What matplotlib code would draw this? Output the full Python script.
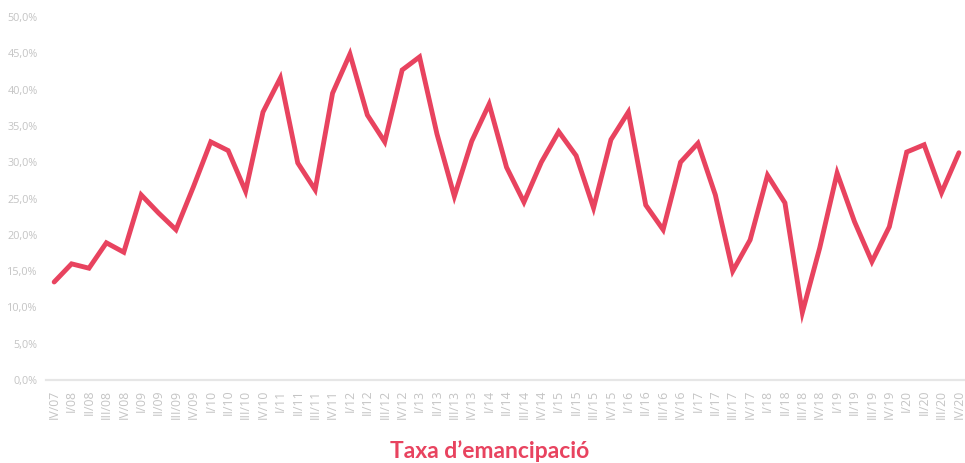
import matplotlib
matplotlib.use("Agg")
import matplotlib.pyplot as plt
from matplotlib.ticker import FuncFormatter

labels = ["IV/07",
          "I/08", "II/08", "III/08", "IV/08",
          "I/09", "II/09", "III/09", "IV/09",
          "I/10", "II/10", "III/10", "IV/10",
          "I/11", "II/11", "III/11", "IV/11",
          "I/12", "II/12", "III/12", "IV/12",
          "I/13", "II/13", "III/13", "IV/13",
          "I/14", "II/14", "III/14", "IV/14",
          "I/15", "II/15", "III/15", "IV/15",
          "I/16", "II/16", "III/16", "IV/16",
          "I/17", "II/17", "III/17", "IV/17",
          "I/18", "II/18", "III/18", "IV/18",
          "I/19", "II/19", "III/19", "IV/19",
          "I/20", "II/20", "III/20", "IV/20"]

values = [13.5,
          16.0, 15.4, 18.9, 17.6,
          25.5, 23.0, 20.7, 26.6,
          32.8, 31.6, 26.0, 36.9,
          41.6, 29.9, 26.2, 39.5,
          44.9, 36.5, 32.8, 42.7,
          44.5, 33.9, 25.3, 32.9,
          38.0, 29.3, 24.5, 30.0,
          34.2, 30.9, 23.7, 33.1,
          36.9, 24.1, 20.7, 30.0,
          32.6, 25.5, 15.0, 19.3,
          28.2, 24.4, 9.3, 18.2,
          28.5, 21.8, 16.3, 21.1,
          31.4, 32.4, 25.8, 31.3]

yticks = [0, 5, 10, 15, 20, 25, 30, 35, 40, 45, 50]
title = "Taxa d\u2019emancipació"

fig = plt.figure(figsize=(9.65, 4.63), dpi=100)
ax = fig.add_axes([46/965, 83/463, (965-46)/965, (380-17)/463])

x = list(range(len(values)))
ax.plot(x, values, color="#e8435f", lw=3.5, solid_joinstyle="miter",
        solid_capstyle="round", clip_on=False, zorder=3)

ax.set_xlim(-0.47, len(values) - 1 + 0.35)
ax.set_ylim(0, 50)
ax.set_yticks(yticks)
ax.yaxis.set_major_formatter(FuncFormatter(lambda v, p: f"{v:.1f}%".replace(".", ",")))
ax.set_xticks(x)
ax.set_xticklabels(labels, rotation=90, va="top", ha="center")

for s in ["top", "right", "left"]:
    ax.spines[s].set_visible(False)
ax.spines["bottom"].set_color("#e6e6e6")
ax.spines["bottom"].set_linewidth(1.6)

ax.tick_params(axis="both", length=0, labelcolor="#c4c4c4")
ax.tick_params(axis="y", pad=6, labelsize=7.8)
ax.tick_params(axis="x", pad=7, labelsize=8.8)
for t in ax.get_xticklabels() + ax.get_yticklabels():
    t.set_fontfamily("Open Sans")

fig.text(490/965, 1 - 451/463, title, ha="center", va="center",
         fontsize=16.5, fontweight="bold", color="#e8435f", family="Lato")

fig.savefig("out.png", dpi=100)
